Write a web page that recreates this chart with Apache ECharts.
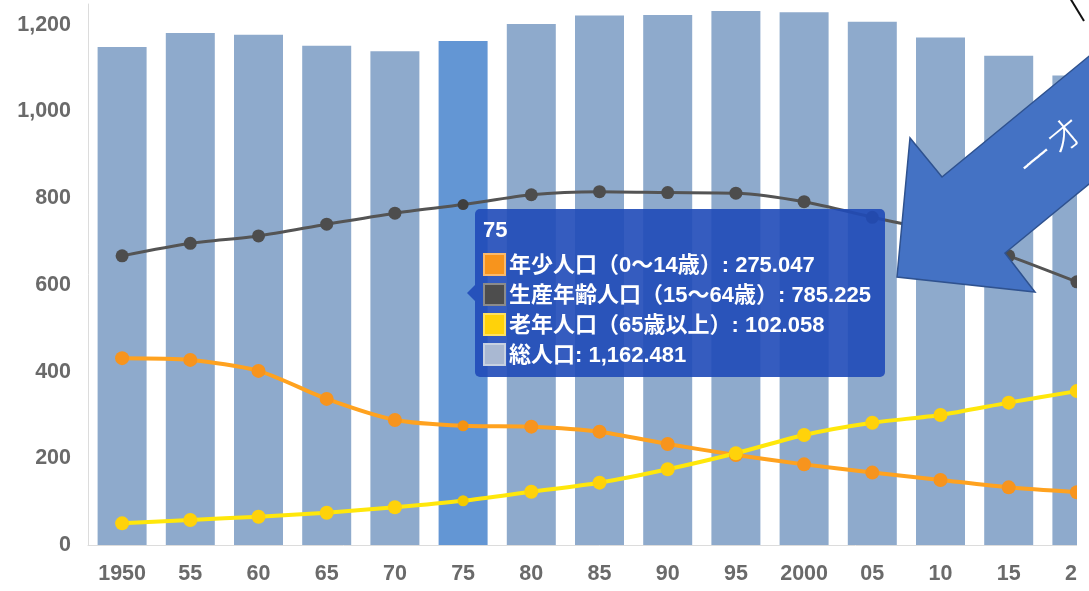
<!DOCTYPE html>
<html>
<head>
<meta charset="utf-8">
<style>
  html, body { margin: 0; padding: 0; background: #fff; overflow: hidden; }
  #chart { width: 1111px; height: 591px; }
</style>
<script src="https://cdn.jsdelivr.net/npm/echarts@6/dist/echarts.min.js"></script>
</head>
<body>
<div id="chart"></div>
<script>
// Census years (axis labels) and population by age group
const years = ['1950', '55', '60', '65', '70', '75', '80', '85', '90', '95', '2000', '05', '10', '15', '20'];
const total   = [1148.6, 1181.0, 1177.0, 1151.6, 1139.0, 1162.481, 1202.0, 1221.6, 1222.5, 1232.0, 1229.0, 1207.0, 1171.0, 1128.5, 1083.0];
const youth   = [431.0, 427.0, 401.6, 337.0, 288.5, 275.047, 273.0, 261.5, 233.0, 207.7, 186.0, 167.0, 150.0, 133.0, 121.6];
const working = [667.0, 696.0, 713.0, 740.0, 765.5, 785.225, 808.0, 815.0, 813.0, 811.6, 792.0, 756.0, 721.0, 667.0, 607.0];
const elderly = [50.0, 57.7, 65.3, 74.5, 87.0, 102.058, 123.0, 143.8, 174.7, 211.6, 253.9, 282.0, 300.0, 328.4, 355.0];

const seriesNames = ['年少人口（0〜14歳）', '生産年齢人口（15〜64歳）', '老年人口（65歳以上）', '総人口'];
const arrowText = 'ーオ';

// Category whose tooltip is shown
const focusIndex = 5;

const C = {
  bar: '#8eaacc', barFocus: '#6396d4',
  youth: '#f7941d', youthFocus: '#dc8612',
  working: '#4d4d4d', workingFocus: '#3a3a3a',
  elderly: '#ffd20a', elderlyFocus: '#dcb800',
  axisText: '#6a6a6a', axisLine: '#dcdcdc'
};

const fmt3 = v => v.toLocaleString('en-US', { minimumFractionDigits: 3, maximumFractionDigits: 3 });

function lineData(values, focusColor) {
  return values.map((v, i) => i === focusIndex
    ? { value: v, symbolSize: 10, itemStyle: { color: focusColor } }
    : v);
}

function lineSeries(name, values, color, focusColor, width, size) {
  return {
    name, type: 'line', data: lineData(values, focusColor),
    smooth: 0.25, symbol: 'circle', symbolSize: size,
    lineStyle: { color, width }, itemStyle: { color },
    z: 3
  };
}

const chart = echarts.init(document.getElementById('chart'), null, { renderer: 'canvas' });

const tooltipRows = [
  { name: seriesNames[0], values: youth, color: C.youth },
  { name: seriesNames[1], values: working, color: C.working },
  { name: seriesNames[2], values: elderly, color: C.elderly },
  { name: seriesNames[3], values: total, color: '#a9b8d2' }
];

const tipFont = "font-family:'Liberation Sans','Noto Sans CJK JP',sans-serif;font-weight:bold;font-size:22px;color:#fff;";

chart.setOption({
  animation: false,
  grid: { left: 88, right: 0, top: 4, bottom: 46 },
  xAxis: {
    type: 'category', data: years,
    axisTick: { show: false },
    axisLine: { lineStyle: { color: C.axisLine, width: 1 } },
    axisLabel: { color: C.axisText, fontSize: 21.5, fontWeight: 'bold', fontFamily: 'Liberation Sans', margin: 18 }
  },
  yAxis: {
    type: 'value', min: 0, max: 1248, interval: 200,
    splitLine: { show: false },
    axisTick: { show: false },
    axisLine: { show: true, lineStyle: { color: C.axisLine, width: 1 } },
    axisLabel: {
      color: C.axisText, fontSize: 21.5, fontWeight: 'bold', fontFamily: 'Liberation Sans', margin: 17,
      showMaxLabel: false,
      formatter: v => v.toLocaleString('en-US')
    }
  },
  tooltip: {
    trigger: 'axis',
    alwaysShowContent: true,
    transitionDuration: 0,
    axisPointer: { type: 'none' },
    backgroundColor: 'rgba(31, 74, 184, 0.9)',
    borderWidth: 0,
    padding: [6, 14, 7, 8],
    extraCssText: 'box-shadow:none;border-radius:5px;',
    position: () => [475, 209],
    formatter: params => {
      const i = params[0].dataIndex;
      let html = '<div style="position:absolute;left:-8px;top:76px;width:0;height:0;border-top:8px solid transparent;border-bottom:8px solid transparent;border-right:8px solid rgba(31,74,184,0.9);"></div>';
      html += `<div style="${tipFont}line-height:30px;margin-bottom:5px;">${years[i]}</div>`;
      tooltipRows.forEach(r => {
        html += `<div style="${tipFont}line-height:30px;height:30px;white-space:nowrap;">` +
          `<span style="display:inline-block;box-sizing:border-box;width:23px;height:23px;vertical-align:-4px;margin-right:3px;background:${r.color};border:2px solid rgba(255,255,255,0.35);"></span>` +
          `${r.name}: ${fmt3(r.values[i])}</div>`;
      });
      return html;
    }
  },
  series: [
    {
      name: seriesNames[3], type: 'bar', barWidth: 49,
      data: total.map((v, i) => i === focusIndex ? { value: v, itemStyle: { color: C.barFocus } } : v),
      itemStyle: { color: C.bar }, z: 1,
      emphasis: { disabled: true }
    },
    lineSeries(seriesNames[1], working, C.working, C.workingFocus, 3, 13),
    lineSeries(seriesNames[0], youth, C.youth, C.youthFocus, 4, 14),
    lineSeries(seriesNames[2], elderly, C.elderly, C.elderlyFocus, 4, 14)
  ],
  graphic: [
    // white margin along the right edge of the chart area
    {
      type: 'rect', z: 50,
      shape: { x: 1077, y: 0, width: 40, height: 591 },
      style: { fill: '#ffffff' }
    },
    // callout arrow
    {
      type: 'polygon', z: 100,
      shape: {
        points: [[1200, -35], [942, 177], [910, 138], [897, 277], [1035, 292], [1005, 253], [1200, 93]]
      },
      style: { fill: '#4472c4', stroke: '#2f528f', lineWidth: 1.5 }
    },
    {
      type: 'text', z: 101,
      x: 1050, y: 147, rotation: 0.69,
      style: {
        text: arrowText, fill: '#ffffff', font: '300 38px "Noto Sans CJK JP"',
        align: 'center', verticalAlign: 'middle'
      }
    },
    {
      type: 'line', z: 101,
      shape: { x1: 1070, y1: -2, x2: 1084, y2: 21 },
      style: { stroke: '#111', lineWidth: 2 }
    }
  ]
});

chart.dispatchAction({ type: 'showTip', seriesIndex: 0, dataIndex: focusIndex });
</script>
</body>
</html>
